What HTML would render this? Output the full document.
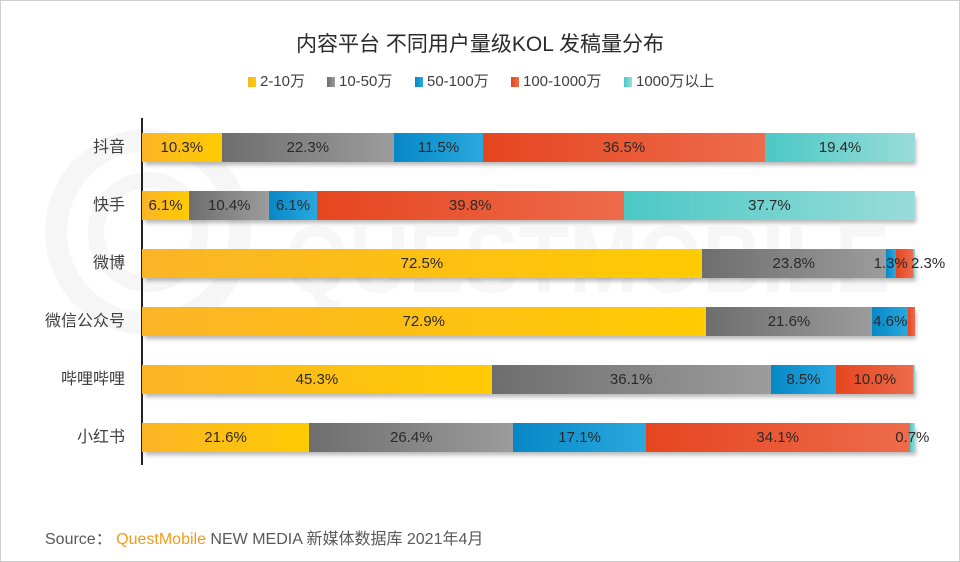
<!DOCTYPE html>
<html><head><meta charset="utf-8">
<style>
*{margin:0;padding:0;box-sizing:border-box}
body{width:960px;height:562px;background:#fff;position:relative;overflow:hidden;font-family:"Liberation Sans","Noto Sans CJK SC",sans-serif}
#frame{position:absolute;left:0;top:0;width:960px;height:562px;border:1px solid #cfcfcf}
.title{position:absolute;left:0;width:960px;top:30px;text-align:center;font-size:21px;color:#2b2b2b;line-height:30px}
.leg{position:absolute;top:72px;font-size:15px;color:#404040;line-height:20px;white-space:nowrap}
.leg i{position:absolute;left:-12px;top:5px;width:8px;height:10px}
.cat{position:absolute;right:835px;font-size:16px;color:#404040;line-height:29px;white-space:nowrap;text-align:right}
.bar{position:absolute;left:142px;width:773px;height:29px;display:flex;box-shadow:2px 4px 4px -1px rgba(0,0,0,0.28)}
.s{flex-basis:0;height:29px;display:flex;justify-content:center;align-items:center;font-size:15px;color:#2a2a2a;white-space:nowrap;min-width:0}
.s span{position:relative;z-index:3}
.y{background:linear-gradient(90deg,#fbb426,#ffcb02)}
.g{background:linear-gradient(90deg,#6e6e6e,#9c9c9c)}
.b{background:linear-gradient(90deg,#0788c6,#2aa9de)}
.r{background:linear-gradient(90deg,#e54620,#ee6b4b)}
.t{background:linear-gradient(90deg,#4bc8c5,#99dcda)}
#axis{position:absolute;left:141px;top:118px;width:1.5px;height:347px;background:#222}
.src{position:absolute;left:45px;top:529px;font-size:16px;color:#595959;line-height:22px;white-space:nowrap}
.src .q{color:#f39a1e}
</style></head><body>
<svg width="960" height="562" style="position:absolute;left:0;top:0">
  <g fill="none" stroke="#f6f6f6">
    <circle cx="148" cy="232" r="92" stroke-width="22"/>
    <circle cx="148" cy="232" r="52" stroke-width="16"/>
  </g>
  <text x="285" y="292" font-family="Liberation Sans" font-weight="bold" font-size="96" fill="#f7f7f7" textLength="605" lengthAdjust="spacingAndGlyphs">QUESTMOBILE</text>
</svg>
<div id="frame"></div>
<div class="title">内容平台 不同用户量级KOL 发稿量分布</div>

<div class="leg" style="left:260px"><i class="y"></i>2-10万</div>
<div class="leg" style="left:339px"><i class="g"></i>10-50万</div>
<div class="leg" style="left:427px"><i class="b"></i>50-100万</div>
<div class="leg" style="left:523px"><i class="r"></i>100-1000万</div>
<div class="leg" style="left:636px"><i class="t"></i>1000万以上</div>

<div id="axis"></div>

<div class="cat" style="top:133px">抖音</div>
<div class="cat" style="top:191px">快手</div>
<div class="cat" style="top:249px">微博</div>
<div class="cat" style="top:307px">微信公众号</div>
<div class="cat" style="top:365px">哔哩哔哩</div>
<div class="cat" style="top:423px">小红书</div>

<div class="bar" style="top:133px">
  <div class="s y" style="flex-grow:10.3"><span>10.3%</span></div>
  <div class="s g" style="flex-grow:22.3"><span>22.3%</span></div>
  <div class="s b" style="flex-grow:11.5"><span>11.5%</span></div>
  <div class="s r" style="flex-grow:36.5"><span>36.5%</span></div>
  <div class="s t" style="flex-grow:19.4"><span>19.4%</span></div>
</div>
<div class="bar" style="top:191px">
  <div class="s y" style="flex-grow:6.1"><span>6.1%</span></div>
  <div class="s g" style="flex-grow:10.4"><span>10.4%</span></div>
  <div class="s b" style="flex-grow:6.1"><span>6.1%</span></div>
  <div class="s r" style="flex-grow:39.8"><span>39.8%</span></div>
  <div class="s t" style="flex-grow:37.7"><span>37.7%</span></div>
</div>
<div class="bar" style="top:249px">
  <div class="s y" style="flex-grow:72.5"><span>72.5%</span></div>
  <div class="s g" style="flex-grow:23.8"><span>23.8%</span></div>
  <div class="s b" style="flex-grow:1.3"><span>1.3%</span></div>
  <div class="s r" style="flex-grow:2.3"></div>
  <div class="s t" style="flex-grow:0.2"></div>
</div>
<div style="position:absolute;left:911px;top:249px;line-height:29px;font-size:15px;color:#2a2a2a;white-space:nowrap;z-index:4">2.3%</div>
<div class="bar" style="top:307px">
  <div class="s y" style="flex-grow:72.9"><span>72.9%</span></div>
  <div class="s g" style="flex-grow:21.6"><span>21.6%</span></div>
  <div class="s b" style="flex-grow:4.6"><span>4.6%</span></div>
  <div class="s r" style="flex-grow:0.9"></div>
</div>
<div class="bar" style="top:365px">
  <div class="s y" style="flex-grow:45.3"><span>45.3%</span></div>
  <div class="s g" style="flex-grow:36.1"><span>36.1%</span></div>
  <div class="s b" style="flex-grow:8.5"><span>8.5%</span></div>
  <div class="s r" style="flex-grow:10.0"><span>10.0%</span></div>
  <div class="s t" style="flex-grow:0.2"></div>
</div>
<div class="bar" style="top:423px">
  <div class="s y" style="flex-grow:21.6"><span>21.6%</span></div>
  <div class="s g" style="flex-grow:26.4"><span>26.4%</span></div>
  <div class="s b" style="flex-grow:17.1"><span>17.1%</span></div>
  <div class="s r" style="flex-grow:34.1"><span>34.1%</span></div>
  <div class="s t" style="flex-grow:0.7"><span>0.7%</span></div>
</div>

<div class="src">Source：&nbsp;<span class="q">QuestMobile</span> NEW MEDIA 新媒体数据库 2021年4月</div>
</body></html>
